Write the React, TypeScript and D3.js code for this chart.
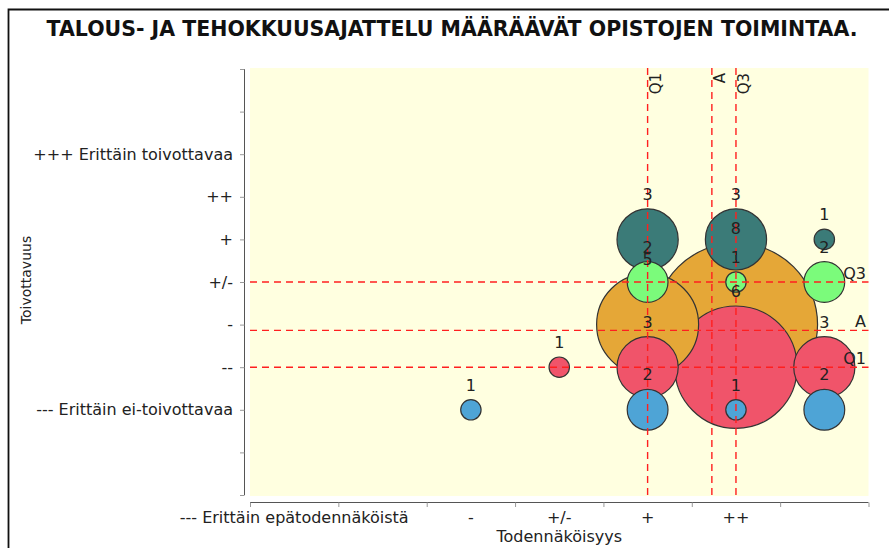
import { useEffect, useRef } from "react";
import * as d3 from "d3";

const title = "TALOUS- JA TEHOKKUUSAJATTELU MÄÄRÄÄVÄT OPISTOJEN TOIMINTAA.";

// likelihood (x) levels and their tick labels
const xLevels = ["---", "--", "-", "+/-", "+", "++", "+++"];
const xTickLabels = ["--- Erittäin epätodennäköistä", "", "-", "+/-", "+", "++", ""];

// desirability (y) levels
const yTickValues = [2, 3, 4, 5, 6, 7, 8];
const yTickLabels = [
  "--- Erittäin ei-toivottavaa",
  "--",
  "-",
  "+/-",
  "+",
  "++",
  "+++ Erittäin toivottavaa",
];

// one series per desirability level, counts per likelihood level
const seriesY = [6, 5, 4, 3, 2];
const seriesColors = ["#3b7b78", "#7bfb7b", "#e5a737", "#f0546a", "#4ea4d6"];
const plusCounts = [0, 0, 0, 0, 3, 3, 1];
const neutralCounts = [0, 0, 0, 0, 2, 1, 2];
const minusCounts = [0, 0, 0, 0, 5, 8, 0];
const minus2Counts = [0, 0, 0, 1, 3, 6, 3];
const minus3Counts = [0, 0, 1, 0, 2, 1, 2];
const seriesCounts = [plusCounts, neutralCounts, minusCounts, minus2Counts, minus3Counts];

const font = "DejaVu Sans";

function renderChart(el: SVGSVGElement) {
  const svg = d3.select(el);
  svg.selectAll("*").remove();

  const left = 250,
    right = 868.5,
    top = 68,
    bottom = 496;

  const x = d3.scaleLinear().domain([-0.5, 6.5]).range([left, right]);
  const y = d3.scaleLinear().domain([0, 10]).range([495, 69]);
  const r = d3.scaleLinear().domain([0, 1]).range([0, 10.2]);

  // frame
  svg
    .append("path")
    .attr("d", "M8.5,548 V9.5 H889")
    .attr("fill", "none")
    .attr("stroke", "#111")
    .attr("stroke-width", 1.8);

  svg
    .append("text")
    .attr("x", 452)
    .attr("y", 36)
    .attr("text-anchor", "middle")
    .attr("font-family", font)
    .attr("font-weight", "bold")
    .attr("font-size", 20.5)
    .attr("fill", "#111")
    .text(title);

  svg
    .append("rect")
    .attr("x", left)
    .attr("y", top)
    .attr("width", right - left)
    .attr("height", bottom - top)
    .attr("fill", "#ffffe0");

  // y axis
  const yAxis = svg.append("g");
  yAxis
    .append("line")
    .attr("x1", 244.5)
    .attr("x2", 244.5)
    .attr("y1", y(10))
    .attr("y2", y(0))
    .attr("stroke", "#555");
  yAxis
    .selectAll("line.tick")
    .data(d3.range(0, 11))
    .join("line")
    .attr("class", "tick")
    .attr("x1", 240)
    .attr("x2", 244.5)
    .attr("y1", (d) => y(d) + 0.5)
    .attr("y2", (d) => y(d) + 0.5)
    .attr("stroke", "#999");
  yAxis
    .selectAll("text")
    .data(yTickValues)
    .join("text")
    .attr("x", 233)
    .attr("y", (d) => y(d))
    .attr("dy", "0.35em")
    .attr("text-anchor", "end")
    .attr("font-family", font)
    .attr("font-size", 16)
    .attr("fill", "#222")
    .text((d, i) => yTickLabels[i]);

  svg
    .append("text")
    .attr("transform", `translate(31,${(top + bottom) / 2 - 2}) rotate(-90)`)
    .attr("text-anchor", "middle")
    .attr("font-family", font)
    .attr("font-size", 14)
    .attr("fill", "#222")
    .text("Toivottavuus");

  // x axis
  const xAxis = svg.append("g");
  xAxis
    .append("line")
    .attr("x1", left)
    .attr("x2", right)
    .attr("y1", 502.5)
    .attr("y2", 502.5)
    .attr("stroke", "#555");
  xAxis
    .selectAll("line.tick")
    .data(d3.range(0, 8))
    .join("line")
    .attr("class", "tick")
    .attr("x1", (d) => x(d - 0.5) + 0.5)
    .attr("x2", (d) => x(d - 0.5) + 0.5)
    .attr("y1", 502.5)
    .attr("y2", 507)
    .attr("stroke", "#999");
  xAxis
    .selectAll("text")
    .data(xLevels)
    .join("text")
    .attr("x", (d, i) => x(i))
    .attr("y", 523)
    .attr("text-anchor", "middle")
    .attr("font-family", font)
    .attr("font-size", 16)
    .attr("fill", "#222")
    .text((d, i) => xTickLabels[i]);

  svg
    .append("text")
    .attr("x", (left + right) / 2)
    .attr("y", 542)
    .attr("text-anchor", "middle")
    .attr("font-family", font)
    .attr("font-size", 16)
    .attr("fill", "#222")
    .text("Todennäköisyys");

  // bubbles
  const points = seriesCounts.flatMap((counts, s) =>
    counts.map((c, i) => ({ xi: i, yv: seriesY[s], count: c, color: seriesColors[s] }))
  ).filter((p) => p.count > 0);
  const sorted = [...points].sort((a, b) => b.count - a.count);

  svg
    .append("g")
    .selectAll("circle")
    .data(sorted)
    .join("circle")
    .attr("cx", (d) => x(d.xi))
    .attr("cy", (d) => y(d.yv))
    .attr("r", (d) => r(d.count))
    .attr("fill", (d) => d.color)
    .attr("stroke", "#333")
    .attr("stroke-width", 1.2);

  // reference lines: quartiles and average
  const xs = points.flatMap((p) => d3.range(p.count).map(() => p.xi)).sort(d3.ascending);
  const ys = points.flatMap((p) => d3.range(p.count).map(() => p.yv)).sort(d3.ascending);
  const vLines = [
    { v: d3.quantile(xs, 0.25)!, label: "Q1" },
    { v: d3.mean(xs)!, label: "A" },
    { v: d3.quantile(xs, 0.75)!, label: "Q3" },
  ];
  const hLines = [
    { v: d3.quantile(ys, 0.75)!, label: "Q3" },
    { v: d3.mean(ys)!, label: "A" },
    { v: d3.quantile(ys, 0.25)!, label: "Q1" },
  ];

  const refs = svg.append("g");
  refs
    .selectAll("line.v")
    .data(vLines)
    .join("line")
    .attr("class", "v")
    .attr("x1", (d) => x(d.v))
    .attr("x2", (d) => x(d.v))
    .attr("y1", top)
    .attr("y2", bottom)
    .attr("stroke", "#ff1f1f")
    .attr("stroke-width", 1.4)
    .attr("stroke-dasharray", "7,5");
  refs
    .selectAll("line.h")
    .data(hLines)
    .join("line")
    .attr("class", "h")
    .attr("x1", left)
    .attr("x2", right)
    .attr("y1", (d) => y(d.v))
    .attr("y2", (d) => y(d.v))
    .attr("stroke", "#ff1f1f")
    .attr("stroke-width", 1.4)
    .attr("stroke-dasharray", "7,5");
  refs
    .selectAll("text.v")
    .data(vLines)
    .join("text")
    .attr("class", "v")
    .attr("transform", (d) => `translate(${x(d.v) + 13},73) rotate(-90)`)
    .attr("text-anchor", "end")
    .attr("font-family", font)
    .attr("font-size", 15)
    .attr("fill", "#222")
    .text((d) => d.label);
  refs
    .selectAll("text.h")
    .data(hLines)
    .join("text")
    .attr("class", "h")
    .attr("x", 866)
    .attr("y", (d) => y(d.v) - 3)
    .attr("text-anchor", "end")
    .attr("font-family", font)
    .attr("font-size", 16)
    .attr("fill", "#222")
    .text((d) => d.label);

  // count labels above each bubble
  svg
    .append("g")
    .selectAll("text")
    .data(points)
    .join("text")
    .attr("x", (d) => x(d.xi))
    .attr("y", (d) => y(d.yv) - r(d.count) - 9)
    .attr("text-anchor", "middle")
    .attr("font-family", font)
    .attr("font-size", 16)
    .attr("fill", "#222")
    .text((d) => d.count);
}

export default function App() {
  const ref = useRef<SVGSVGElement>(null);
  useEffect(() => {
    if (ref.current) renderChart(ref.current);
  }, []);
  return (
    <svg
      ref={ref}
      width={889}
      height={548}
      style={{ position: "absolute", left: 0, top: 0, background: "#fff" }}
    />
  );
}
